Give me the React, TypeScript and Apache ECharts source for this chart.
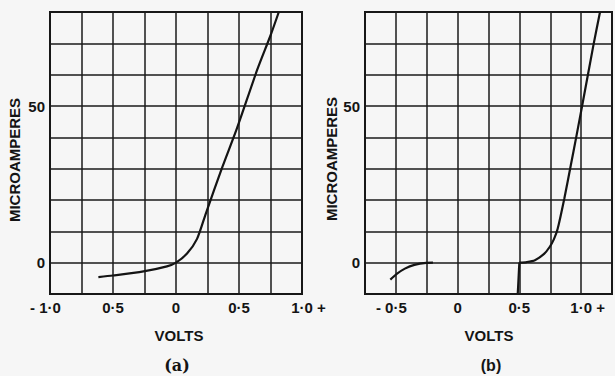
import React, { useEffect, useRef } from "react";
import * as echarts from "echarts";

// Panel (a): volts vs microamperes
const voltsA = [-0.616, -0.5, -0.258, -0.072, 0, 0.0875, 0.167, 0.236, 0.366, 0.485, 0.644, 0.75, 0.816];
const microampsA = [-4.6, -4.1, -2.8, -1.2, 0, 2.9, 7.6, 15.6, 30.3, 43, 61.5, 72.5, 80];

// Panel (b): three traced segments
const voltsB1 = [-0.545, -0.49, -0.427, -0.35, -0.255, -0.2];
const microampsB1 = [-5.4, -3.5, -1.9, -0.7, -0.05, 0];
const voltsB2 = [0.487, 0.492, 0.497, 0.5];
const microampsB2 = [-9.8, -6, -2, 0];
const voltsB3 = [0.5, 0.56, 0.626, 0.7, 0.745, 0.78, 0.81, 0.864, 0.916, 0.96, 1.008, 1.1, 1.153];
const microampsB3 = [0, 0.2, 0.8, 2.8, 5, 7.5, 10.8, 20.5, 31, 40, 50, 69.5, 80];

// Tick labels
const xTicksA = [-1, -0.5, 0, 0.5, 1];
const xLabelsA = ["- 1·0", "0·5", "0", "0·5", "1·0 +"];
const xTicksB = [-0.5, 0, 0.5, 1];
const xLabelsB = ["- 0·5", "0", "0·5", "1·0 +"];
const yTicks = [0, 50];
const yLabels = ["0", "50"];

const FONT = "'Liberation Sans', Arial, sans-serif";
const INK = "#141414";

function pair(xs: number[], ys: number[]) {
  return xs.map((x, i) => [x, ys[i]]);
}

function xFormatter(ticks: number[], labels: string[]) {
  return (v: number) => {
    const i = ticks.findIndex((t) => Math.abs(t - v) < 1e-6);
    if (i < 0) return "";
    const l = labels[i];
    if (l.startsWith("- ")) return `{n|${l}}{h|- }`;
    if (l.endsWith(" +")) return `{h| +}{n|${l}}`;
    return `{n|${l}}`;
  };
}

function yFormatter(v: number) {
  const i = yTicks.findIndex((t) => Math.abs(t - v) < 1e-6);
  return i < 0 ? "" : yLabels[i];
}

const labelRich = {
  n: { fontFamily: FONT, fontWeight: "bold", fontSize: 15, color: INK },
  h: { fontFamily: FONT, fontWeight: "bold", fontSize: 15, color: "transparent" },
};

function makeX(gridIndex: number, min: number, max: number, ticks: number[], labels: string[]) {
  return {
    type: "value",
    gridIndex,
    min,
    max,
    interval: 0.25,
    axisLine: { show: false },
    axisTick: { show: false },
    splitLine: { show: true, lineStyle: { color: "#1a1a1a", width: 1.5 } },
    axisLabel: {
      show: true,
      margin: 6,
      formatter: xFormatter(ticks, labels),
      rich: labelRich,
      showMinLabel: true,
      showMaxLabel: true,
    },
  };
}

function makeY(gridIndex: number, margin: number) {
  return {
    type: "value",
    gridIndex,
    min: -10,
    max: 80,
    interval: 10,
    axisLine: { show: false },
    axisTick: { show: false },
    splitLine: { show: true, lineStyle: { color: "#1a1a1a", width: 1.5 } },
    axisLabel: {
      show: true,
      margin,
      formatter: yFormatter,
      fontFamily: FONT,
      fontWeight: "bold",
      fontSize: 15,
      color: INK,
    },
  };
}

function lineSeries(xi: number, data: number[][]) {
  return {
    type: "line",
    xAxisIndex: xi,
    yAxisIndex: xi,
    data,
    smooth: 0.25,
    showSymbol: false,
    symbol: "none",
    lineStyle: { color: INK, width: 2.2 },
    z: 5,
  };
}

const textStyle = (text: string, size: number, family = FONT) => ({
  text,
  fontFamily: family,
  fontWeight: "bold",
  fontSize: size,
  fill: INK,
  align: "center",
  verticalAlign: "middle",
});

export default function App() {
  const ref = useRef<HTMLDivElement>(null);

  useEffect(() => {
    if (!ref.current) return;
    const chart = echarts.init(ref.current, null, { renderer: "svg" });
    chart.setOption({
      animation: false,
      backgroundColor: "#f6f6f6",
      grid: [
        { left: 50, top: 12, width: 252, height: 282, show: true, borderColor: INK, borderWidth: 2, backgroundColor: "transparent" },
        { left: 365, top: 12, width: 252, height: 282, show: true, borderColor: INK, borderWidth: 2, backgroundColor: "transparent" },
      ],
      xAxis: [makeX(0, -1, 1, xTicksA, xLabelsA), makeX(1, -0.75, 1.25, xTicksB, xLabelsB)],
      yAxis: [makeY(0, 5), makeY(1, 5)],
      series: [
        lineSeries(0, pair(voltsA, microampsA)),
        lineSeries(1, pair(voltsB1, microampsB1)),
        lineSeries(1, pair(voltsB2, microampsB2)),
        lineSeries(1, pair(voltsB3, microampsB3)),
      ],
      graphic: [
        { type: "text", x: 14, y: 160, rotation: Math.PI / 2, style: textStyle("MICROAMPERES", 15) },
        { type: "text", x: 331, y: 159, rotation: Math.PI / 2, style: textStyle("MICROAMPERES", 15) },
        { type: "text", x: 179, y: 335, style: textStyle("VOLTS", 15) },
        { type: "text", x: 489, y: 335, style: textStyle("VOLTS", 15) },
        { type: "text", x: 177, y: 365, style: textStyle("(a)", 16, "'DejaVu Serif', 'Liberation Serif', serif") },
        { type: "text", x: 491, y: 365, style: textStyle("(b)", 16) },
      ],
    });
    return () => chart.dispose();
  }, []);

  return (
    <div
      ref={ref}
      style={{ position: "absolute", left: 0, top: 0, width: 615, height: 376 }}
    />
  );
}
